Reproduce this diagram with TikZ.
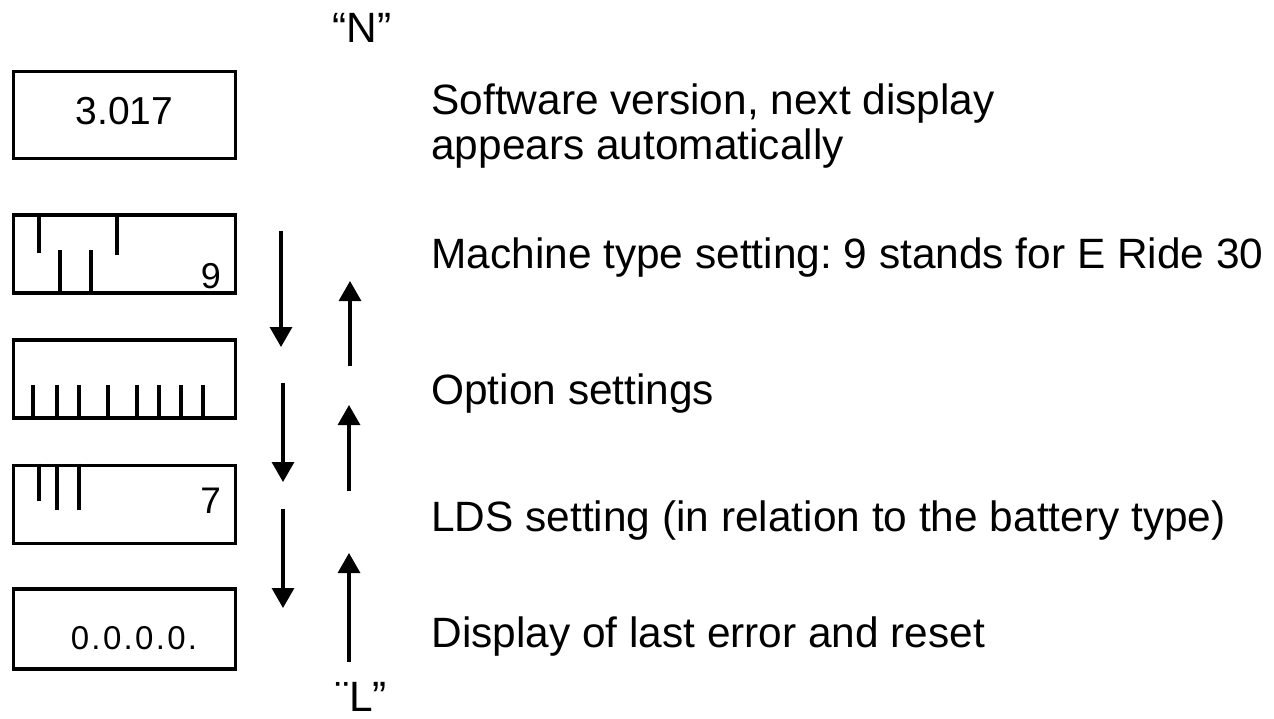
\documentclass[tikz,border=0pt]{standalone}
\usepackage{fontspec}
\setmainfont{Liberation Sans}
\usetikzlibrary{positioning}
\usetikzlibrary{arrows.meta}
\frenchspacing

\begin{document}
\begin{tikzpicture}[
    x = .5pt,
    y = -.5pt,
    font = \fontsize{21.2}{22.5}\selectfont,
    dispf/.style = {
      rectangle,
      draw,
      line width=1.8pt,
      minimum width=111pt,
      minimum height=39pt,
      inner sep=0pt
    },
    tickf/.style = {
      line width=1.8pt
    },
    digf/.style = {
      inner sep=0pt,
      font=\fontsize{19.5}{20}\selectfont
    },
    descf/.style = {
      anchor=base west,
      inner sep=0pt,
      align=left
    },
    flowa/.style = {
      line width=1.6pt,
      -{Triangle[length=10pt,width=11pt]}
    }
  ]
    \useasboundingbox (0,0) rectangle (1274,718);

    \node[dispf, minimum height=43.5pt] (d0) at (124.5,115) {};
    \node[dispf] (d1) [below=26.5pt of d0] {};
    \node[dispf] (d2) [below=21.5pt of d1] {};
    \node[dispf] (d3) [below=22pt of d2] {};
    \node[dispf, minimum height=40pt] (d4) [below=21pt of d3] {};

    % display contents
    \node[digf] (v0) [yshift=2pt] at (d0) {3.017};
    \draw[tickf] (d1.north west) ++(27,0) -- ++(0,40);
    \draw[tickf] (d1.north west) ++(105,0) -- ++(0,42);
    \foreach \dx in {48,79}
      \draw[tickf] (d1.south west) ++(\dx,0) -- ++(0,-45);
    \node[digf, font=\fontsize{18}{19}\selectfont] (v1) [above left=3pt and 8pt of d1.south east] {9};
    \foreach \dx in {21,45,67,96,125,147,169,191}
      \draw[tickf] (d2.south west) ++(\dx,0) -- ++(0,-35);
    \draw[tickf] (d3.north west) ++(27,0) -- ++(0,37);
    \foreach \dx in {45,67}
      \draw[tickf] (d3.north west) ++(\dx,0) -- ++(0,46);
    \node[digf, font=\fontsize{18.5}{19}\selectfont] (v3) [above left=15.5pt and 8pt of d3.south east] {7};
    \node[digf, font=\fontsize{16.5}{17}\selectfont\addfontfeature{LetterSpace=7}] (v4) [xshift=4.75pt, yshift=-4.75pt] at (d4) {0.0.0.0.};

    % descriptions
    \node[descf] (t0) at (431,159) {Software version, next display\\appears automatically};
    \node[descf] (t1) at (431,268) {Machine type setting: 9 stands for E Ride 30};
    \node[descf] (t2) at (431,404) {Option settings};
    \node[descf] (t3) at (431,531) {LDS setting (in relation to the battery type)};
    \node[descf] (t4) at (431,647) {Display of last error and reset};

    % keys
    \node[inner sep=0pt] (kn) at (362,28) {“N”};
    \node[inner sep=0pt] (kl) at (361,697) {¨L”};

    \coordinate (dn0) at (281,231);
    \coordinate (dn1) at (281,347);
    \coordinate (dn2) at (283,383);
    \coordinate (dn3) at (283,482);
    \coordinate (dn4) at (283,509);
    \coordinate (dn5) at (283,608);
    \coordinate (up0) at (350,366);
    \coordinate (up1) at (350,281);
    \coordinate (up2) at (349,491);
    \coordinate (up3) at (349,405);
    \coordinate (up4) at (349,662);
    \coordinate (up5) at (349,553);

    \draw[flowa] (dn0) -- (dn1);
    \draw[flowa] (dn2) -- (dn3);
    \draw[flowa] (dn4) -- (dn5);
    \draw[flowa] (up0) -- (up1);
    \draw[flowa] (up2) -- (up3);
    \draw[flowa] (up4) -- (up5);

  \end{tikzpicture}
\end{document}
